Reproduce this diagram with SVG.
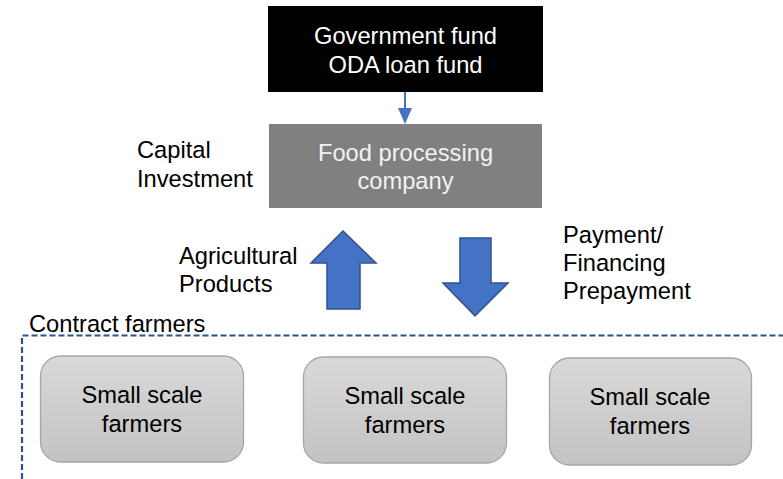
<svg xmlns="http://www.w3.org/2000/svg" width="783" height="479" viewBox="0 0 783 479">
<style>
text{font-family:"Liberation Sans",Arial,sans-serif;font-size:23.7px}
.lbl{fill:#000}
.c{text-anchor:middle}
.farm{fill:url(#g);stroke:#a6a6a6;stroke-width:1.3}
.big{fill:#4472c4;stroke:#2f528f;stroke-width:1.5}
</style>
<defs>
<linearGradient id="g" x1="0" y1="0" x2="0" y2="1">
<stop offset="0" stop-color="#d9d9d9"/>
<stop offset="1" stop-color="#c3c3c3"/>
</linearGradient>
</defs>
<rect width="783" height="479" fill="#fff"/>

<g id="gov">
<rect x="268" y="6" width="275" height="86" fill="#000"/>
<text class="c" x="405.5" y="44" fill="#fff">Government fund</text>
<text class="c" x="405.5" y="73" fill="#fff">ODA loan fund</text>
</g>

<g id="company">
<rect x="269" y="124" width="273" height="84" fill="#808080"/>
<text class="c" x="405.5" y="161" fill="#f2f2f2">Food processing</text>
<text class="c" x="405.5" y="189" fill="#f2f2f2">company</text>
</g>

<g id="connectors">
<line x1="405" y1="92" x2="405" y2="110" stroke="#4472c4" stroke-width="2"/>
<path d="M398,108 L412,108 L405,124 Z" fill="#4472c4"/>
<path class="big" d="M327,309 L360,309 L360,263 L376,263 L343,231 L311,263 L327,263 Z"/>
<path class="big" d="M460,238 L491,238 L491,283 L508,283 L475,316 L443,283 L460,283 Z"/>
</g>

<g id="labels">
<text class="lbl" x="137" y="158">Capital</text>
<text class="lbl" x="137" y="187">Investment</text>
<text class="lbl" x="179" y="264">Agricultural</text>
<text class="lbl" x="179" y="292">Products</text>
<text class="lbl" x="563" y="243">Payment/</text>
<text class="lbl" x="563" y="271">Financing</text>
<text class="lbl" x="563" y="299">Prepayment</text>
</g>

<g id="contract">
<path d="M22,479 L22,335.5 L790,335.5" fill="none" stroke="#2f528f" stroke-width="2.2" stroke-dasharray="6,3"/>
<text class="lbl" x="29" y="332">Contract farmers</text>
</g>

<g id="farmer1">
<rect class="farm" x="40.5" y="356" width="203" height="106" rx="20"/>
<text class="c" x="142" y="403" fill="#000">Small scale</text>
<text class="c" x="142" y="432" fill="#000">farmers</text>
</g>
<g id="farmer2">
<rect class="farm" x="303.5" y="357" width="203" height="106" rx="20"/>
<text class="c" x="405" y="404" fill="#000">Small scale</text>
<text class="c" x="405" y="433" fill="#000">farmers</text>
</g>
<g id="farmer3">
<rect class="farm" x="549.5" y="358" width="202" height="107" rx="20"/>
<text class="c" x="650" y="405" fill="#000">Small scale</text>
<text class="c" x="650" y="434" fill="#000">farmers</text>
</g>
</svg>
